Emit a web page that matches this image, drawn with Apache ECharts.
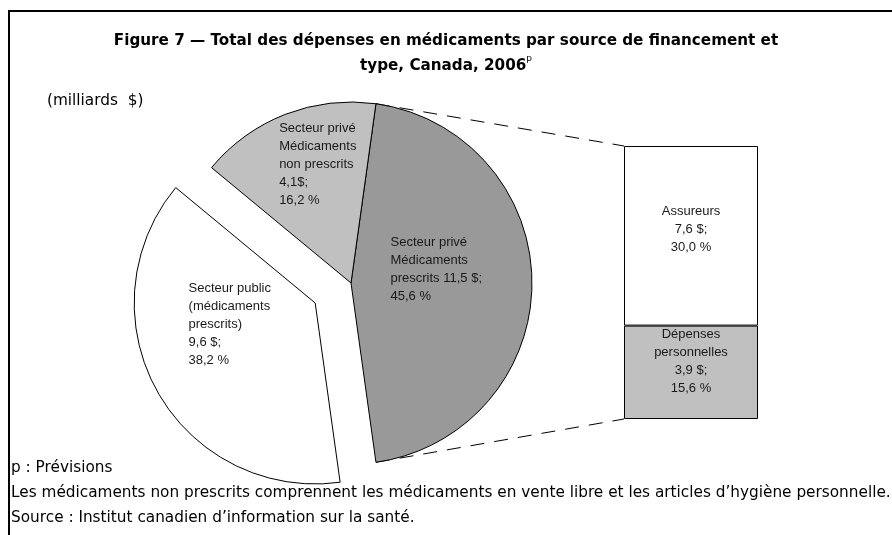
<!DOCTYPE html>
<html>
<head>
<meta charset="utf-8">
<script src="https://cdn.jsdelivr.net/npm/echarts@6/dist/echarts.min.js"></script>
<style>
  html, body { margin: 0; background: #fff; }
  #chart { width: 892px; height: 535px; }
</style>
</head>
<body>
<div id="chart"></div>
<script>
// pie: sources of financing (order = clockwise from the top of the dark slice)
const pieAmounts = [11.5, 9.6, 4.1];          // milliards $
const pieShares = [45.6, 38.2, 16.2];         // %
const pieColors = ['#999999', '#ffffff', '#c0c0c0'];
const pieTexts = [
  ['Secteur privé', 'Médicaments', 'prescrits {v} $;', '{p} %'],
  ['Secteur public', '(médicaments', 'prescrits)', '{v} $;', '{p} %'],
  ['Secteur privé', 'Médicaments', 'non prescrits', '{v}$;', '{p} %']
];

// bar: split of private prescribed drugs (bottom -> top)
const barNames = ['Dépenses', 'Assureurs'];
const barTexts = [
  ['Dépenses', 'personnelles', '{v} $;', '{p} %'],
  ['Assureurs', '{v} $;', '{p} %']
];
const barAmounts = [3.9, 7.6];
const barShares = [15.6, 30.0];
const barColors = ['#c0c0c0', '#ffffff'];

const footnotes = [
  'p : Prévisions',
  'Les médicaments non prescrits comprennent les médicaments en vente libre et les articles d’hygiène personnelle.',
  'Source : Institut canadien d’information sur la santé.'
];

const num = v => v.toFixed(1).replace('.', ',');
const lblFont = 'Liberation Sans, Arial, sans-serif';
const noteFont = 'DejaVu Sans, sans-serif';

// layout
const pieCenter = [351, 283];
const pieRadius = 181;
const startAngle = pieShares[0] / 100 * 180;   // dark slice centred on the right
const grid = { left: 624, top: 146, width: 134, height: 273 };

// the exploded slice ignores label.offset, so it is nudged with padding instead
const pieLabelOffsets = [[1, -14], [0, 0], [17, -31]];
const pieLabelPadding = [0, [0, 0, 48, 20], 0];
const barLabelOffsets = [[0, -11], [0, -6]];

const fill = (lines, v, p) =>
  lines.map(l => '{a|' + l.replace('{v}', num(v)).replace('{p}', num(p)) + '}').join('\n');

const myChart = echarts.init(document.getElementById('chart'));

const option = {
  animation: false,
  backgroundColor: '#fff',
  title: [
    {
      text: '{t|Figure 7 — Total des dépenses en médicaments par source de financement et}\n{t|type, Canada, 2006}{sup|p}',
      left: 'center',
      top: 29,
      padding: 0,
      textStyle: {
        rich: {
          t: { fontFamily: noteFont, fontWeight: 'bold', fontSize: 15.2, lineHeight: 25, color: '#000' },
          sup: { fontFamily: noteFont, fontWeight: 'normal', fontSize: 9, lineHeight: 14, verticalAlign: 'top', color: '#000' }
        }
      }
    },
    {
      text: '(milliards  $)',
      left: 47,
      top: 92,
      padding: 0,
      textStyle: { fontFamily: noteFont, fontWeight: 'normal', fontSize: 15.3, lineHeight: 18, color: '#000' }
    },
    {
      text: footnotes.join('\n'),
      left: 11,
      top: 456,
      padding: 0,
      textStyle: { fontFamily: noteFont, fontWeight: 'normal', fontSize: 15.3, lineHeight: 25, color: '#000' }
    }
  ],
  grid: Object.assign({ containLabel: false }, grid),
  xAxis: { type: 'category', data: [''], show: false },
  yAxis: { type: 'value', min: 0, max: barShares[0] + barShares[1], show: false },
  series: [
    {
      type: 'pie',
      center: pieCenter,
      radius: pieRadius,
      startAngle: startAngle,
      clockwise: true,
      selectedMode: 'single',
      selectedOffset: 41,
      emphasis: { disabled: true },
      itemStyle: { borderColor: '#000', borderWidth: 1 },
      labelLine: { show: false },
      label: {
        show: true,
        position: 'inside',
        rich: { a: { width: 110, align: 'left', fontFamily: lblFont, fontSize: 13, lineHeight: 18, color: '#1a1a1a' } }
      },
      data: pieShares.map((p, i) => ({
        value: p,
        selected: i === 1,
        itemStyle: { color: pieColors[i] },
        label: {
          formatter: fill(pieTexts[i], pieAmounts[i], p),
          offset: pieLabelOffsets[i],
          padding: pieLabelPadding[i]
        }
      }))
    },
    ...barShares.map((p, i) => ({
      type: 'bar',
      name: barNames[i],
      stack: 'prive',
      barWidth: '100%',
      emphasis: { disabled: true },
      itemStyle: { color: barColors[i], borderColor: '#000', borderWidth: 1 },
      label: {
        show: true,
        position: 'inside',
        offset: barLabelOffsets[i],
        formatter: fill(barTexts[i], barAmounts[i], p),
        rich: { a: { align: 'center', fontFamily: lblFont, fontSize: 13, lineHeight: 18, color: '#1a1a1a' } }
      },
      data: [p]
    }))
  ]
};
myChart.setOption(option);

// frame + dashed connectors from the dark slice edges to the bar corners
const a = startAngle * Math.PI / 180;
const pTop = [pieCenter[0] + pieRadius * Math.cos(a), pieCenter[1] - pieRadius * Math.sin(a)];
const pBot = [pieCenter[0] + pieRadius * Math.cos(a), pieCenter[1] + pieRadius * Math.sin(a)];
const yTop = myChart.convertToPixel({ yAxisIndex: 0 }, barShares[0] + barShares[1]);
const yBot = myChart.convertToPixel({ yAxisIndex: 0 }, 0);
const dash = { stroke: '#000', lineWidth: 1, lineDash: [14, 10] };

myChart.setOption({
  graphic: [
    { type: 'rect', silent: true, shape: { x: 9, y: 11, width: 1000, height: 1000 }, style: { fill: 'none', stroke: '#000', lineWidth: 2 } },
    { type: 'line', silent: true, shape: { x1: pTop[0], y1: pTop[1], x2: grid.left, y2: yTop }, style: dash },
    { type: 'line', silent: true, shape: { x1: pBot[0], y1: pBot[1], x2: grid.left, y2: yBot }, style: dash }
  ]
});
</script>
</body>
</html>
